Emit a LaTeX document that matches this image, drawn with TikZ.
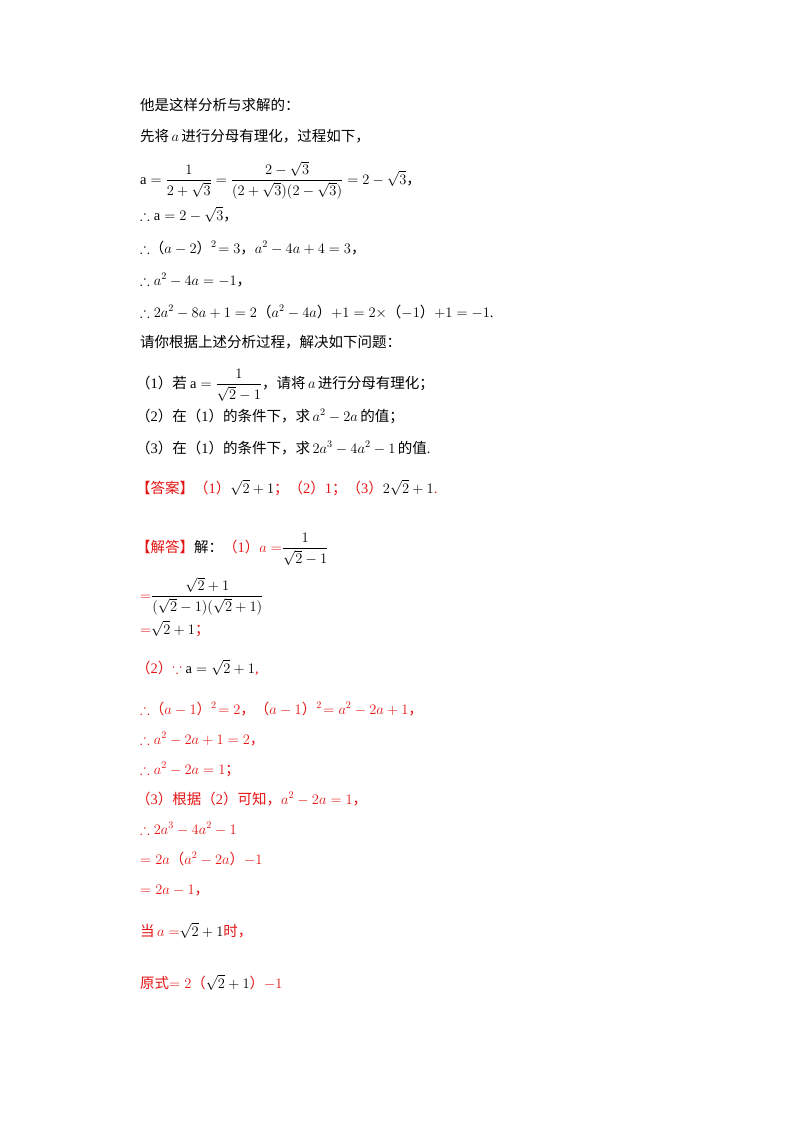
\RequirePackage{fix-cm}
\documentclass[tikz,border=0pt]{standalone}
\usepackage{amsmath,amssymb}
\usepackage{fontspec}
\setmainfont{Liberation Serif}
\newfontfamily\cjk{Noto Sans CJK SC}
\newcommand{\zh}[1]{{\cjk #1}}
\newcommand{\lp}{{\cjk （}}
\newcommand{\rp}{{\cjk ）}}
\definecolor{ansred}{RGB}{230,20,20}
\begin{document}
\begin{tikzpicture}[x=1pt,y=1pt,
  ln/.style={anchor=base west,inner sep=0pt,font=\fontsize{14.5}{17}\selectfont},
  rd/.style={ln,text=ansred}]
\useasboundingbox[fill=white] (0,0) rectangle (800,-1132);
\node[ln] (l1) at (140,-110) {\zh{他是这样分析与求解的：}};
\node[ln] (l2) at (140,-141) {\zh{先将}$\,a\,$\zh{进行分母有理化，过程如下，}};
\node[ln] (l3) at (140,-184) {$\mathrm{a}=\dfrac{1}{2+\sqrt{3}}=\dfrac{2-\sqrt{3}}{(2+\sqrt{3})(2-\sqrt{3})}=2-\sqrt{3}$\zh{，}};
\node[ln] (l4) at (140,-220) {$\therefore \mathrm{a}=2-\sqrt{3}$\zh{，}};
\node[ln] (l5) at (140,-253) {$\therefore$\lp$a-2$\rp$^2\!=3$\zh{，}$a^2-4a+4=3$\zh{，}};
\node[ln] (l6) at (140,-285) {$\therefore a^2-4a=-1$\zh{，}};
\node[ln] (l7) at (140,-317) {$\therefore 2a^2-8a+1=2$\lp$a^2-4a$\rp$+1=2\times$\lp$-1$\rp$+1=-1$.};
\node[ln] (l8) at (140,-347) {\zh{请你根据上述分析过程，解决如下问题：}};
\node[ln] (l9) at (136,-388) {\lp1\rp\zh{若 }$\mathrm{a}=\dfrac{1}{\sqrt{2}-1}$\zh{，请将}$\,a\,$\zh{进行分母有理化；}};
\node[ln] (l10) at (136,-421) {\lp2\rp\zh{在}\lp1\rp\zh{的条件下，求}$\,a^2-2a\,$\zh{的值；}};
\node[ln] (l11) at (136,-453) {\lp3\rp\zh{在}\lp1\rp\zh{的条件下，求}$\,2a^3-4a^2-1\,$\zh{的值}.};
\node[rd] (a1) at (136,-493) {\zh{【答案】}\lp1\rp{\color{black}$\sqrt{2}+1$}\zh{；}\lp2\rp1\zh{；}\lp3\rp{\color{black}$2\sqrt{2}+1$}.};
\node[rd] (s1) at (136,-552) {\zh{【解答】}{\color{black}\zh{解：}}\lp1\rp$a=${\color{black}$\dfrac{1}{\sqrt{2}-1}$}};
\node[rd] (s2) at (140,-600) {$=${\color{black}$\dfrac{\sqrt{2}+1}{(\sqrt{2}-1)(\sqrt{2}+1)}$}};
\node[rd] (s3) at (140,-634) {$=${\color{black}$\sqrt{2}+1$}\zh{；}};
\node[rd] (s4) at (136,-673) {\lp2\rp$\because$ {\color{black}$\mathrm{a}=\sqrt{2}+1$},};
\node[rd] (s5) at (140,-714) {$\therefore$\lp$a-1$\rp$^2\!=2$\zh{，}\lp$a-1$\rp$^2\!=a^2-2a+1$\zh{，}};
\node[rd] (s6) at (140,-744) {$\therefore a^2-2a+1=2$\zh{，}};
\node[rd] (s7) at (140,-774) {$\therefore a^2-2a=1$\zh{；}};
\node[rd] (s8) at (136,-804) {\lp3\rp\zh{根据}\lp2\rp\zh{可知，}$a^2-2a=1$\zh{，}};
\node[rd] (s9) at (140,-834) {$\therefore 2a^3-4a^2-1$};
\node[rd] (s10) at (140,-864) {$=2a$\lp$a^2-2a$\rp$-1$};
\node[rd] (s11) at (140,-894) {$=2a-1$\zh{，}};
\node[rd] (s12) at (140,-936) {\zh{当}$\,a=${\color{black}$\sqrt{2}+1$}\zh{时，}};
\node[rd] (s13) at (140,-988) {\zh{原式}$=2$\lp{\color{black}$\sqrt{2}+1$}\rp$-1$};
\end{tikzpicture}
\end{document}
